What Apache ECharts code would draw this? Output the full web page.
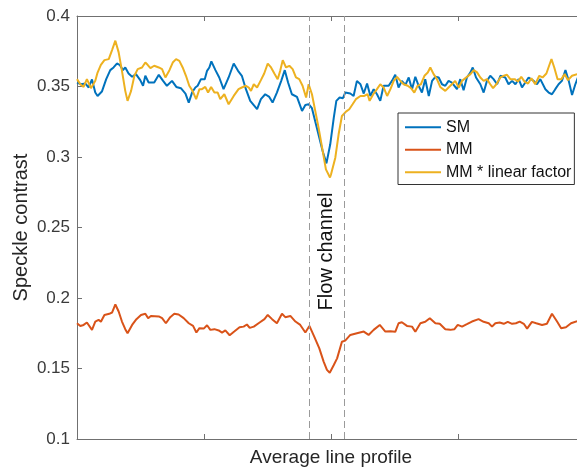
<!DOCTYPE html>
<html>
<head>
<meta charset="utf-8">
<script src="https://cdn.jsdelivr.net/npm/echarts@6/dist/echarts.min.js"></script>
<style>
  html, body { margin: 0; padding: 0; background: #fff; }
  #chart { width: 577px; height: 472px; }
</style>
</head>
<body>
<div id="chart"></div>
<script>
// Profile position (arbitrary units along the averaged line) and speckle contrast values
const smX = [0,1.6,3.3,4.6,5.9,7.2,8.1,9.8,11.5,13.1,14.4,15.7,16.8,18.1,19.0,20.3,21.7,23.2,24.9,26.0,26.9,28.2,30.4,32.2,33.9,35.4,37.4,39.1,40.9,42.7,44.0,45.3,46.6,47.5,48.8,50.3,51.2,52.1,52.9,54.5,56.0,57.7,59.7,61.7,63.4,64.9,66.5,68.2,70.9,72.4,74.1,75.7,77.0,78.7,80.4,81.8,83.1,84.6,86.6,88.6,89.9,91.2,92.5,93.8,95.4,96.7,98.2,99.7,101.1,102.1,103.4,104.7,105.6,107.6,108.9,110.2,111.6,112.9,114.2,115.5,116.8,118.1,119.4,120.7,122.7,124.0,125.3,126.6,127.9,129.3,130.6,131.9,133.2,134.5,135.8,137.1,138.5,139.8,141.1,142.4,143.7,145.0,146.3,147.6,149.6,150.9,152.2,153.5,154.9,155.8,157.1,158.8,160.1,161.4,162.7,164.0,165.4,166.7,168.6,169.9,171.3,172.6,173.9,175.2,176.5,177.8,179.8,181.1,182.4,184.4,185.7,187.0,188.3,189.6,190.9,192.3,193.6,194.9,196.2,197.3];
const smY = [0.3528,0.3516,0.3521,0.3493,0.355,0.3457,0.3433,0.3464,0.3552,0.3616,0.3635,0.3663,0.3654,0.3616,0.3635,0.3592,0.3569,0.3588,0.3545,0.3505,0.3576,0.3528,0.3528,0.3583,0.354,0.3505,0.354,0.3497,0.3488,0.345,0.3386,0.3457,0.3493,0.3505,0.3552,0.3552,0.3611,0.3635,0.3678,0.3616,0.3564,0.3481,0.3564,0.3663,0.3611,0.3576,0.3481,0.3398,0.3339,0.341,0.3445,0.3426,0.3386,0.3457,0.354,0.3616,0.3528,0.3445,0.3426,0.3327,0.3369,0.3374,0.3346,0.3251,0.3137,0.3042,0.2955,0.309,0.3279,0.3398,0.3422,0.3417,0.3457,0.345,0.3433,0.354,0.3516,0.345,0.3521,0.3433,0.3481,0.3445,0.3398,0.3505,0.3505,0.354,0.3583,0.3493,0.354,0.3512,0.3564,0.3481,0.3569,0.3505,0.3457,0.3552,0.3433,0.354,0.3569,0.3564,0.3516,0.3505,0.354,0.3528,0.3481,0.3552,0.3474,0.3564,0.36,0.3635,0.3564,0.3516,0.3457,0.354,0.3576,0.3552,0.3516,0.3576,0.3564,0.3516,0.354,0.3516,0.3552,0.3493,0.3528,0.3564,0.354,0.3516,0.3552,0.3481,0.3457,0.3445,0.3481,0.3516,0.354,0.3616,0.354,0.344,0.3516,0.3569];

const mmX = [0,1.3,2.6,3.9,5.9,7.2,8.5,9.4,10.8,12.7,13.8,15.1,16.4,17.7,19.0,19.9,21.7,23.4,25.2,26.9,28.0,29.1,32.2,33.5,35.0,36.7,38.3,40.0,42.0,44.0,45.7,47.0,48.2,49.9,51.2,52.5,54.1,55.8,57.1,58.4,60.1,61.9,64.0,65.6,66.9,68.0,69.6,71.9,73.8,75.1,76.8,78.7,80.7,82.0,84.0,86.0,87.9,89.9,91.5,93.4,95.4,97.1,98.4,99.5,101.1,102.4,104.3,105.6,107.6,110.2,112.9,114.8,116.8,119.2,121.4,123.4,125.3,126.6,127.9,129.9,131.9,133.2,135.2,137.1,138.9,141.1,142.8,145.0,147.0,148.6,149.9,151.6,153.5,155.5,158.1,160.1,162.1,163.4,164.7,166.4,168.0,169.6,171.3,172.8,174.3,175.9,177.2,179.1,180.8,183.1,185.0,187.0,189.0,190.6,192.5,194.5,196.9];
const mmY = [0.1821,0.1802,0.1809,0.1826,0.1774,0.1833,0.1845,0.1831,0.188,0.1888,0.1897,0.1954,0.1904,0.1833,0.1779,0.175,0.1809,0.185,0.188,0.1888,0.1857,0.1873,0.1869,0.1857,0.1821,0.1864,0.1888,0.1883,0.1857,0.1821,0.1802,0.1755,0.1786,0.1783,0.1807,0.1774,0.1779,0.177,0.1755,0.177,0.1736,0.1762,0.1793,0.1797,0.1812,0.1788,0.1797,0.1826,0.185,0.188,0.185,0.1821,0.1888,0.1864,0.1873,0.1833,0.1809,0.1755,0.1802,0.1726,0.1643,0.1549,0.149,0.147,0.1525,0.1572,0.169,0.1698,0.1738,0.175,0.1762,0.1738,0.1774,0.1809,0.1762,0.1764,0.176,0.1821,0.1828,0.1802,0.1797,0.176,0.1821,0.1831,0.1857,0.1821,0.1817,0.1778,0.1774,0.1779,0.1809,0.1797,0.1814,0.1833,0.185,0.1831,0.1821,0.1797,0.1821,0.1826,0.1817,0.1831,0.1817,0.1821,0.1833,0.1817,0.1783,0.1831,0.1821,0.1809,0.1817,0.1888,0.1833,0.1786,0.1793,0.1821,0.1835];

const mfX = [0,1.3,2.6,3.9,5.5,7.2,8.1,9.4,10.8,12.5,13.8,15.1,16.4,17.7,19.0,19.9,21.3,22.6,23.9,25.6,26.9,27.8,28.9,30.4,32.2,33.5,34.8,36.4,37.7,39.0,40.3,41.6,42.9,44.2,45.5,46.9,48.2,49.2,50.5,51.6,52.8,54.1,55.4,56.4,58.0,59.7,61.7,63.6,64.9,66.5,67.6,68.5,69.6,70.9,72.4,73.7,75.1,76.4,77.7,79.0,80.0,81.0,82.3,83.6,84.9,86.2,87.5,88.8,90.2,91.2,92.5,93.8,95.1,96.5,98.0,99.6,100.0,101.7,103.0,104.3,105.9,107.2,108.5,109.8,111.6,113.1,114.4,115.2,116.8,118.1,119.4,120.7,122.1,123.4,124.7,126.0,127.3,128.6,130.2,131.5,132.8,134.1,135.4,136.8,138.1,139.1,140.4,141.7,143.0,145.0,146.3,147.6,148.9,150.3,151.6,153.2,154.9,156.2,157.5,158.8,160.1,161.4,162.7,163.8,165.1,166.7,168.0,169.3,170.6,172.3,173.6,174.9,176.2,177.6,178.9,180.4,182.0,183.3,184.8,186.0,186.8,187.9,189.2,190.7,192.0,193.3,194.9,196.9];
const mfY = [0.3552,0.3516,0.3497,0.3552,0.3488,0.354,0.3599,0.3654,0.3687,0.3694,0.3758,0.3825,0.3742,0.3611,0.3469,0.3398,0.3469,0.3576,0.3623,0.3635,0.367,0.3654,0.363,0.3647,0.3635,0.3623,0.3564,0.3616,0.367,0.3694,0.3682,0.3635,0.3576,0.3505,0.3469,0.341,0.3481,0.3481,0.3497,0.3457,0.3497,0.3457,0.3457,0.341,0.3445,0.3374,0.3433,0.3481,0.3493,0.3505,0.3493,0.3469,0.3516,0.3493,0.3545,0.3592,0.3663,0.3635,0.3592,0.3552,0.3611,0.3687,0.3635,0.3647,0.3623,0.3564,0.3552,0.3505,0.3422,0.3516,0.3445,0.3327,0.3208,0.3066,0.2912,0.2855,0.2876,0.2995,0.3161,0.3291,0.3322,0.3339,0.3374,0.341,0.3433,0.3433,0.3445,0.3398,0.345,0.3481,0.3516,0.3493,0.3433,0.3481,0.354,0.3569,0.354,0.3516,0.3505,0.3488,0.3457,0.3505,0.3516,0.3576,0.3599,0.3635,0.3588,0.3552,0.3497,0.3469,0.3493,0.3516,0.354,0.3493,0.354,0.3564,0.3588,0.3616,0.36,0.3564,0.354,0.3552,0.3516,0.3488,0.3516,0.3564,0.3576,0.3583,0.3552,0.3552,0.3535,0.3569,0.3535,0.3521,0.3559,0.3516,0.3576,0.3564,0.3592,0.3654,0.3694,0.3635,0.3552,0.3552,0.3588,0.3545,0.3576,0.3588];

// Flow channel borders and label anchor
const channelEdges = [91.3, 105.1];
const channelLabel = { text: 'Flow channel', x: 98.4, y: 0.233 };

const seriesNames = ['SM', 'MM', 'MM * linear factor'];
const seriesColors = ['#0072BD', '#D95319', '#EDB120'];

const zip = (xs, ys) => xs.map((x, i) => [x, ys[i]]);

const chart = echarts.init(document.getElementById('chart'), null, { renderer: 'canvas' });
const axisColor = '#707070';
const font = 'Liberation Sans, Arial, Helvetica, sans-serif';

const lineSeries = (name, data, color, extra) => Object.assign({
  name, type: 'line', data, showSymbol: false, symbol: 'none',
  lineStyle: { color, width: 2 }, itemStyle: { color },
  animation: false, clip: true
}, extra || {});

const tickFmt = v => String(+v.toFixed(2));

chart.setOption({
  animation: false,
  textStyle: { fontFamily: font },
  grid: { left: 77, top: 16, right: -8, bottom: 33, outerBoundsMode: 'none', containLabel: false },
  legend: {
    data: seriesNames,
    orient: 'vertical',
    left: 398, top: 113,
    padding: [6, 3, 4, 7],
    itemGap: 6,
    icon: 'rect',
    itemWidth: 36, itemHeight: 2,
    itemTextGap: 1,
    backgroundColor: '#fff',
    borderColor: '#333', borderWidth: 1,
    textStyle: { fontSize: 16, color: '#111', fontFamily: font, lineHeight: 16.5 }
  },
  xAxis: [
    {
      type: 'value', min: 0, max: 200, interval: 50,
      name: 'Average line profile', nameLocation: 'middle', nameGap: 9,
      nameMoveOverlap: false,
      nameTextStyle: { fontSize: 19, color: '#262626', fontFamily: font },
      axisLine: { show: true, lineStyle: { color: axisColor, width: 1 } },
      axisTick: { show: true, inside: true, length: 5, lineStyle: { color: axisColor } },
      axisLabel: { show: false },
      splitLine: { show: false }
    },
    {
      type: 'value', min: 0, max: 200, interval: 50, position: 'top',
      axisLine: { show: true, onZero: false, lineStyle: { color: axisColor, width: 1 } },
      axisTick: { show: true, inside: true, length: 5, lineStyle: { color: axisColor } },
      axisLabel: { show: false },
      splitLine: { show: false }
    }
  ],
  yAxis: [
    {
      type: 'value', min: 0.1, max: 0.4, interval: 0.05,
      name: 'Speckle contrast', nameLocation: 'middle', nameGap: 46, nameRotate: 90,
      nameMoveOverlap: false,
      nameTextStyle: { fontSize: 20, color: '#262626', fontFamily: font },
      axisLine: { show: true, onZero: false, lineStyle: { color: axisColor, width: 1 } },
      axisTick: { show: true, inside: true, length: 5, lineStyle: { color: axisColor } },
      axisLabel: { margin: 7, fontSize: 17, color: '#3a3a3a', fontFamily: font, formatter: tickFmt },
      splitLine: { show: false }
    },
    {
      type: 'value', min: 0.1, max: 0.4, interval: 0.05, position: 'right',
      axisLine: { show: true, onZero: false, lineStyle: { color: axisColor, width: 1 } },
      axisTick: { show: true, inside: true, length: 5, lineStyle: { color: axisColor } },
      axisLabel: { show: false },
      splitLine: { show: false }
    }
  ],
  series: [
    lineSeries(seriesNames[0], zip(smX, smY), seriesColors[0], {
      markLine: {
        silent: true, symbol: 'none', animation: false,
        label: { show: false },
        lineStyle: { color: '#9a9a9a', type: [7, 4], width: 1 },
        data: channelEdges.map(x => ({ xAxis: x }))
      }
    }),
    lineSeries(seriesNames[1], zip(mmX, mmY), seriesColors[1]),
    lineSeries(seriesNames[2], zip(mfX, mfY), seriesColors[2])
  ]
});

// Rotated "Flow channel" annotation placed in data coordinates
const p = chart.convertToPixel({ gridIndex: 0 }, [channelLabel.x, channelLabel.y]);
chart.setOption({
  graphic: [{
    type: 'text', x: p[0], y: p[1], rotation: Math.PI / 2, z: 10,
    style: {
      text: channelLabel.text, fontSize: 20, fontFamily: font, fill: '#111',
      textAlign: 'center', textVerticalAlign: 'middle'
    }
  }]
});
</script>
</body>
</html>
